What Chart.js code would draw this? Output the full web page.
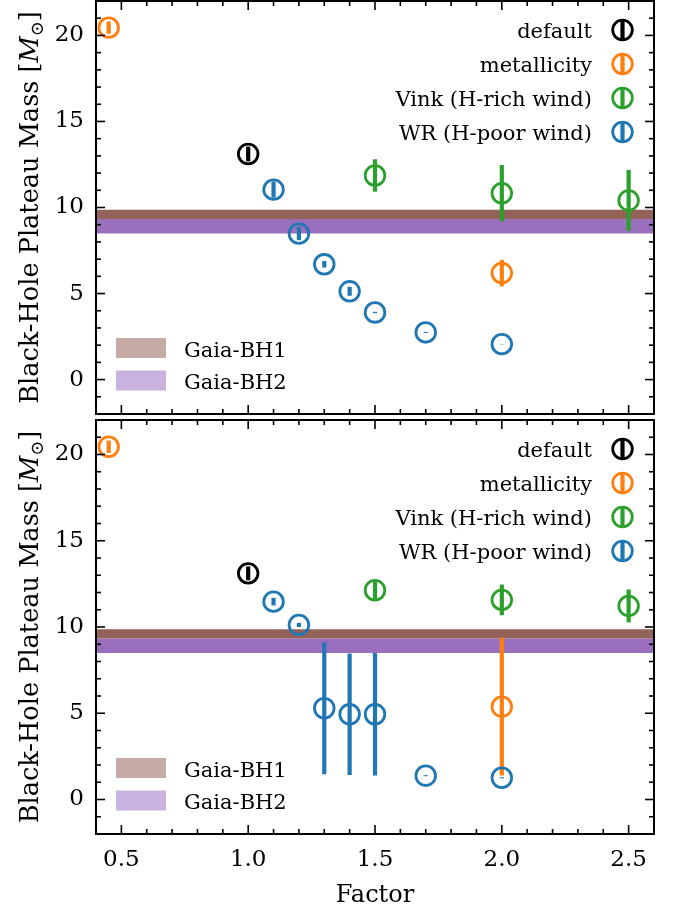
<!DOCTYPE html>
<html>
<head>
<meta charset="utf-8">
<script src="https://cdn.jsdelivr.net/npm/chart.js@4.4.1/dist/chart.umd.min.js"></script>
<style>
  html, body { margin: 0; padding: 0; background: #fff; overflow: hidden; }
  #wrap { position: relative; width: 681px; height: 914px; overflow: hidden; }
  .panel { position: absolute; left: 0; width: 681px; height: 914px; }
  #upperBox { top: -20px; }
  #lowerBox { top: 0; }
</style>
</head>
<body>
<div id="wrap">
  <div class="panel" id="upperBox"><canvas id="upper"></canvas></div>
  <div class="panel" id="lowerBox"><canvas id="lower"></canvas></div>
</div>
<script>
// Factor values of each parameter family
const factorsDefault = [1.0];
const factorsMetallicity = [0.45, 2.0];
const factorsVink = [1.5, 2.0, 2.5];
const factorsWR = [1.1, 1.2, 1.3, 1.4, 1.5, 1.7, 2.0];

// Upper panel: plateau masses and uncertainties
const upperDefault = [13.11];
const upperDefaultErr = [0.43];
const upperMetallicity = [20.45, 6.19];
const upperMetallicityErr = [0.36, 0.77];
const upperVink = [11.86, 10.83, 10.41];
const upperVinkErr = [0.94, 1.64, 1.77];
const upperWR = [11.04, 8.48, 6.70, 5.13, 3.90, 2.74, 2.06];
const upperWRErr = [0.47, 0.38, 0.19, 0.26, 0.04, 0.03, 0.01];

// Lower panel: plateau masses and uncertainties
const lowerDefault = [13.11];
const lowerDefaultErr = [0.40];
const lowerMetallicity = [20.45, 5.38];
const lowerMetallicityErr = [0.36, 3.99];
const lowerVink = [12.13, 11.57, 11.22];
const lowerVinkErr = [0.50, 0.89, 0.95];
const lowerWR = [11.47, 10.12, 5.29, 4.94, 4.94, 1.38, 1.26];
const lowerWRErr = [0.22, 0.12, 3.83, 3.52, 3.55, 0.03, 0.03];

// Observed Gaia black-hole mass ranges [low, high]
const gaiaBH1 = [9.33, 9.87];
const gaiaBH2 = [8.49, 9.33];

const seriesLabels = ['default', 'metallicity', 'Vink (H-rich wind)', 'WR (H-poor wind)'];
const bandLabels = ['Gaia-BH1', 'Gaia-BH2'];
const xTickValues = [0.5, 1.0, 1.5, 2.0, 2.5];
const yTickValues = [0, 5, 10, 15, 20];

const X_MIN = 0.4, X_MAX = 2.6, Y_MIN = -2, Y_MAX = 22;
const FONT = '"DejaVu Serif", serif';
const seriesColors = ['#000000', '#ff7f0e', '#2ca02c', '#1f77b4'];
const bandFill = ['rgb(147,98,88)', 'rgb(154,112,190)'];
const bandPatch = ['rgba(140,86,75,0.5)', 'rgba(148,103,189,0.5)'];
const MARKER_R = 9.8, RING_W = 2.8, BAR_W = 4.2;

function points(xs, ys) { return xs.map((x, i) => ({ x: x, y: ys[i] })); }

function bandDataset(i, range) {
  return {
    type: 'line', label: bandLabels[i], isBand: true, legendPatch: bandPatch[i],
    data: [{ x: X_MIN, y: range[1] }, { x: X_MAX, y: range[1] }],
    fill: { value: range[0] }, backgroundColor: bandFill[i],
    borderWidth: 0, pointRadius: 0, order: 10 + i
  };
}

function seriesDataset(i, xs, ys, errs) {
  return {
    type: 'scatter', label: seriesLabels[i], data: points(xs, ys), yErr: errs,
    borderColor: seriesColors[i], pointBorderColor: seriesColors[i],
    backgroundColor: 'rgba(0,0,0,0)', pointBackgroundColor: 'rgba(0,0,0,0)',
    pointRadius: MARKER_R, pointHoverRadius: MARKER_R, borderWidth: RING_W, pointBorderWidth: RING_W,
    showLine: false, order: 4 - i
  };
}

// Vertical error bars, drawn just before each series' markers
const errorBars = {
  id: 'errorBars',
  beforeDatasetDraw(chart, args) {
    const ds = chart.data.datasets[args.index];
    if (!ds.yErr) return;
    const { ctx, scales: { x, y } } = chart;
    ctx.save();
    ctx.strokeStyle = ds.borderColor;
    ctx.lineWidth = BAR_W;
    ctx.lineCap = 'butt';
    ds.data.forEach((p, i) => {
      const e = ds.yErr[i];
      const px = x.getPixelForValue(p.x);
      ctx.beginPath();
      ctx.moveTo(px, y.getPixelForValue(p.y - e));
      ctx.lineTo(px, y.getPixelForValue(p.y + e));
      ctx.stroke();
    });
    ctx.restore();
  }
};

// Axes frame with inward ticks on all four sides, legends and the y title
const decorations = {
  id: 'decorations',
  afterDraw(chart) {
    const { ctx, chartArea: { left, right, top, bottom }, scales: { x, y } } = chart;
    ctx.save();
    ctx.strokeStyle = '#000';
    ctx.lineWidth = 1.6;
    const tick = (x1, y1, x2, y2) => { ctx.beginPath(); ctx.moveTo(x1, y1); ctx.lineTo(x2, y2); ctx.stroke(); };
    for (let k = Math.round(X_MIN * 10); k <= Math.round(X_MAX * 10); k++) {
      const v = k / 10;
      const major = xTickValues.some(t => Math.abs(t - v) < 1e-9);
      const len = major ? 9 : 5;
      const px = x.getPixelForValue(v);
      tick(px, bottom, px, bottom - len);
      tick(px, top, px, top + len);
    }
    for (let v = Y_MIN; v <= Y_MAX; v++) {
      const major = yTickValues.includes(v);
      const len = major ? 9 : 5;
      const py = y.getPixelForValue(v);
      tick(left, py, left + len, py);
      tick(right, py, right - len, py);
    }
    ctx.lineWidth = 2;
    ctx.strokeRect(left, top, right - left, bottom - top);

    // series legend (upper right), markers after the text
    const series = chart.data.datasets.filter(d => d.yErr);
    ctx.font = '21px ' + FONT;
    ctx.textAlign = 'right';
    ctx.textBaseline = 'alphabetic';
    series.forEach((d, i) => {
      const cy = top + 29 + i * 34;
      const mx = right - 31.5;
      ctx.strokeStyle = d.borderColor;
      ctx.lineWidth = RING_W;
      ctx.beginPath(); ctx.arc(mx, cy, MARKER_R, 0, Math.PI * 2); ctx.stroke();
      ctx.lineWidth = BAR_W;
      tick(mx, cy - MARKER_R - 1, mx, cy + MARKER_R + 1);
      ctx.fillStyle = '#000';
      ctx.fillText(d.label, right - 62, cy + 8);
    });

    // band legend (lower left)
    const bands = chart.data.datasets.filter(d => d.isBand);
    ctx.textAlign = 'left';
    bands.forEach((d, i) => {
      const cy = bottom - 66 + i * 32.5;
      ctx.fillStyle = d.legendPatch;
      ctx.fillRect(left + 20, cy - 10, 50, 20);
      ctx.fillStyle = '#000';
      ctx.fillText(d.label, left + 88, cy + 8.5);
    });

    // y-axis title with italic M and subscript sun symbol
    const size = 25.6;
    const parts = [
      { t: 'Black-Hole Plateau Mass [', f: size + 'px ' + FONT, dy: 0 },
      { t: 'M', f: 'italic ' + size + 'px ' + FONT, dy: 0 },
      { t: '\u2299', f: Math.round(size * 0.7) + 'px ' + FONT, dy: size * 0.2 },
      { t: ']', f: size + 'px ' + FONT, dy: 0 }
    ];
    let total = 0;
    parts.forEach(p => { ctx.font = p.f; p.w = ctx.measureText(p.t).width; total += p.w; });
    ctx.translate(37.5, (top + bottom) / 2);
    ctx.rotate(-Math.PI / 2);
    ctx.fillStyle = '#000';
    ctx.textAlign = 'left';
    let cx = -total / 2;
    parts.forEach(p => { ctx.font = p.f; ctx.fillText(p.t, cx, p.dy); cx += p.w; });
    ctx.restore();
  }
};

function makePanel(id, sets, isLower) {
  return new Chart(document.getElementById(id), {
    type: 'scatter',
    data: {
      datasets: [
        seriesDataset(0, factorsDefault, sets.def, sets.defErr),
        seriesDataset(1, factorsMetallicity, sets.met, sets.metErr),
        seriesDataset(2, factorsVink, sets.vink, sets.vinkErr),
        seriesDataset(3, factorsWR, sets.wr, sets.wrErr),
        bandDataset(0, gaiaBH1),
        bandDataset(1, gaiaBH2)
      ]
    },
    options: {
      responsive: true, maintainAspectRatio: false, animation: false, events: [],
      layout: { padding: isLower ? { top: 420, bottom: 0, left: 0, right: 27 } : { top: 21, bottom: 480, left: 0, right: 27 } },
      plugins: { legend: { display: false }, tooltip: { enabled: false } },
      scales: {
        x: {
          type: 'linear', min: X_MIN, max: X_MAX, display: isLower,
          grid: { display: false, drawTicks: false }, border: { display: false },
          afterBuildTicks: s => { s.ticks = xTickValues.map(v => ({ value: v })); },
          afterFit: s => { s.height = isLower ? 80 : 0; s.paddingLeft = 0; s.paddingRight = 0; },
          ticks: { font: { family: FONT, size: 23 }, color: '#000', padding: 12, maxRotation: 0, autoSkip: false,
                   callback: v => Number(v).toFixed(1) },
          title: { display: true, text: 'Factor', font: { family: FONT, size: 24 }, color: '#000', padding: { top: 0, bottom: 4 } }
        },
        y: {
          type: 'linear', min: Y_MIN, max: Y_MAX,
          grid: { display: false, drawTicks: false }, border: { display: false },
          afterBuildTicks: s => { s.ticks = yTickValues.map(v => ({ value: v })); },
          afterFit: s => { s.width = 96; s.paddingTop = 0; s.paddingBottom = 0; },
          ticks: { font: { family: FONT, size: 23 }, color: '#000', padding: 12, autoSkip: false }
        }
      }
    },
    plugins: [errorBars, decorations]
  });
}

makePanel('upper', {
  def: upperDefault, defErr: upperDefaultErr,
  met: upperMetallicity, metErr: upperMetallicityErr,
  vink: upperVink, vinkErr: upperVinkErr,
  wr: upperWR, wrErr: upperWRErr
}, false);

makePanel('lower', {
  def: lowerDefault, defErr: lowerDefaultErr,
  met: lowerMetallicity, metErr: lowerMetallicityErr,
  vink: lowerVink, vinkErr: lowerVinkErr,
  wr: lowerWR, wrErr: lowerWRErr
}, true);
</script>
</body>
</html>
